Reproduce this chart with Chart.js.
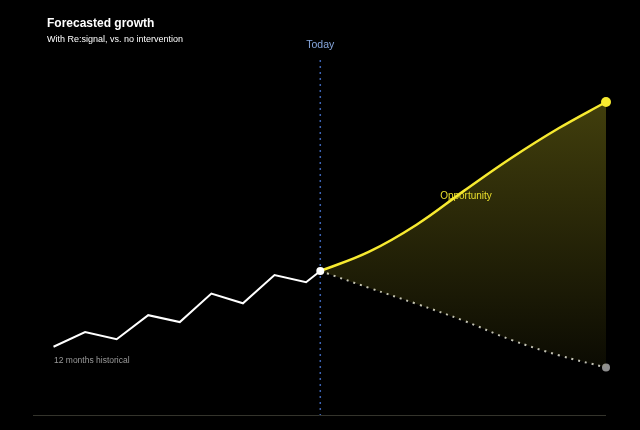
<!DOCTYPE html>
<html lang="en">
<head>
<meta charset="UTF-8">
<title>Forecasted growth</title>
<script src="https://cdn.jsdelivr.net/npm/chart.js"></script>
<style>
    html, body { margin: 0; padding: 0; background: #000; }
    .chart { position: relative; width: 640px; height: 430px; }
</style>
</head>
<body>
<div class="chart">
    <canvas id="growthChart"></canvas>
</div>
<script>
// months on x, growth index on y
const historyMonths = [0, 1, 2, 3, 4, 5, 6, 7, 8, 8.45];
const historyValues = [21.8, 26.5, 24.2, 31.9, 29.7, 38.8, 35.7, 44.7, 42.4, 46.0];

const forecastMonths = [8.45, 10, 11.5, 13, 14.5, 16, 17.5];
const withResignal = [46.0, 52.2, 60.8, 71.6, 82.1, 91.6, 100];
const noIntervention = [46.0, 40.6, 35.5, 30.1, 24.0, 19.1, 15.2];

const todayMonth = 8.45;
const xRange = [-0.65, 17.5];
const yRange = [0, 100];

const font = '"Liberation Sans", Arial, Helvetica, sans-serif';

function toPoints(xs, ys) {
    return xs.map((x, i) => ({ x: x, y: ys[i] }));
}
function lastOnly(arr, r) {
    return arr.map((_, i) => (i === arr.length - 1 ? r : 0));
}

const overlay = {
    id: 'overlay',
    beforeDatasetsDraw(chart) {
        const { ctx, chartArea, scales } = chart;
        const tx = scales.x.getPixelForValue(todayMonth);
        ctx.save();
        // baseline
        ctx.strokeStyle = '#34342c';
        ctx.lineWidth = 1;
        ctx.beginPath();
        ctx.moveTo(chartArea.left, chartArea.bottom + 0.5);
        ctx.lineTo(chartArea.right, chartArea.bottom + 0.5);
        ctx.stroke();
        // today line
        ctx.strokeStyle = '#3d63b3';
        ctx.lineWidth = 1.5;
        ctx.setLineDash([2, 4]);
        ctx.beginPath();
        ctx.moveTo(tx, 60);
        ctx.lineTo(tx, chartArea.bottom);
        ctx.stroke();
        ctx.restore();
    },
    afterDraw(chart) {
        const { ctx, scales } = chart;
        const tx = scales.x.getPixelForValue(todayMonth);
        ctx.save();
        ctx.textBaseline = 'alphabetic';
        ctx.fillStyle = '#ffffff';
        ctx.textAlign = 'left';
        ctx.font = 'bold 12px ' + font;
        ctx.fillText('Forecasted growth', 47, 27);
        ctx.font = '9px ' + font;
        ctx.fillText('With Re:signal, vs. no intervention', 47, 41.5);

        ctx.fillStyle = '#86a6dc';
        ctx.textAlign = 'center';
        ctx.font = '10.5px ' + font;
        ctx.fillText('Today', tx, 48);

        ctx.fillStyle = '#eadf2c';
        ctx.font = '10px ' + font;
        ctx.fillText('Opportunity', 466, 198.5);

        ctx.fillStyle = '#9a9a9a';
        ctx.textAlign = 'left';
        ctx.font = '8.5px ' + font;
        ctx.fillText('12 months historical', 54, 363);
        ctx.restore();
    }
};

new Chart(document.getElementById('growthChart'), {
    type: 'line',
    data: {
        datasets: [{
            label: 'Historical',
            data: toPoints(historyMonths, historyValues),
            borderColor: '#ffffff',
            borderWidth: 2,
            tension: 0,
            pointRadius: lastOnly(historyMonths, 4),
            pointBackgroundColor: '#ffffff',
            pointBorderWidth: 0,
            clip: false
        }, {
            label: 'With Re:signal',
            data: toPoints(forecastMonths, withResignal),
            borderColor: '#f7ea30',
            borderWidth: 2.5,
            tension: 0.4,
            pointRadius: lastOnly(forecastMonths, 5),
            pointBackgroundColor: '#f7ea30',
            pointBorderWidth: 0,
            fill: '+1',
            backgroundColor: (c) => {
                const area = c.chart.chartArea;
                if (!area) return 'rgba(230,220,40,0.2)';
                const g = c.chart.ctx.createLinearGradient(0, area.top, 0, area.bottom - 50);
                g.addColorStop(0, 'rgba(235,225,45,0.28)');
                g.addColorStop(1, 'rgba(235,225,45,0.05)');
                return g;
            },
            clip: false
        }, {
            label: 'No intervention',
            data: toPoints(forecastMonths, noIntervention),
            borderColor: '#c0c0b8',
            borderWidth: 2,
            borderDash: [2, 5],
            tension: 0.4,
            pointRadius: lastOnly(forecastMonths, 4),
            pointBackgroundColor: '#8e8e8e',
            pointBorderWidth: 0,
            fill: false,
            clip: false
        }]
    },
    options: {
        responsive: true,
        maintainAspectRatio: false,
        animation: false,
        layout: { padding: { left: 33, right: 34, top: 102, bottom: 15 } },
        scales: {
            x: { type: 'linear', min: xRange[0], max: xRange[1], display: false },
            y: { min: yRange[0], max: yRange[1], display: false }
        },
        plugins: {
            legend: { display: false },
            tooltip: { enabled: false }
        }
    },
    plugins: [overlay]
});
</script>
</body>
</html>
